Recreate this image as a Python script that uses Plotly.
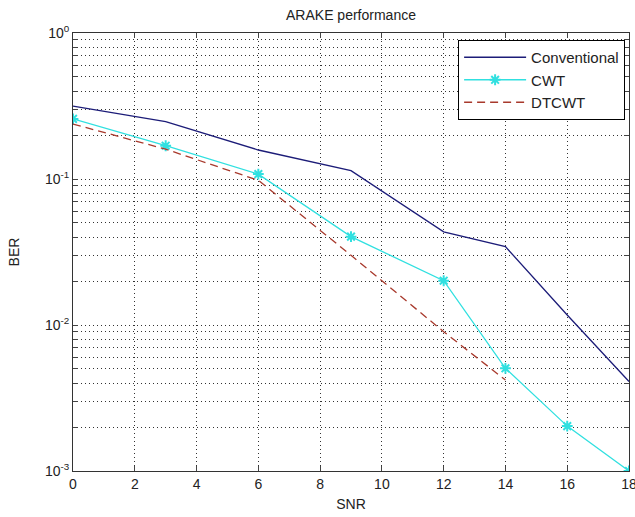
import plotly.graph_objects as go

snr_conv = [0, 3, 6, 9, 12, 14, 16, 18]
ber_conv = [0.316, 0.247, 0.158, 0.114, 0.0435, 0.0344, 0.0117, 0.0041]

snr_cwt = [0, 3, 6, 9, 12, 14, 16, 18]
ber_cwt = [0.258, 0.169, 0.108, 0.0403, 0.0201, 0.00505, 0.00203, 0.001]

snr_dt = [0, 3, 6, 9, 12, 14]
ber_dt = [0.238, 0.16, 0.098, 0.030, 0.009, 0.0042]

x_ticks = list(range(0, 19, 2))
decades = [-3, -2, -1, 0]

y_tickvals = []
y_ticktext = []
for d in decades:
    for m in range(1, 10):
        if d == 0 and m > 1:
            break
        y_tickvals.append(m * 10 ** d)
        y_ticktext.append(f"10<sup>{d}</sup>" if m == 1 else "")

fig = go.Figure()
fig.add_trace(go.Scatter(x=snr_conv, y=ber_conv, mode="lines", name="Conventional",
                         line=dict(color="#1c1c78", width=1.3)))
fig.add_trace(go.Scatter(x=snr_cwt, y=ber_cwt, mode="lines+markers", name="CWT",
                         line=dict(color="#30e0e0", width=1.3),
                         marker=dict(symbol="asterisk-open", size=9,
                                     line=dict(color="#30e0e0", width=2))))
fig.add_trace(go.Scatter(x=snr_dt, y=ber_dt, mode="lines", name="DTCWT",
                         line=dict(color="#a8392c", width=1.3, dash="8px,5px")))

FAM = "Liberation Sans, Arial, sans-serif"
axis_font = dict(family=FAM, size=14, color="#222")
grid_dash = "1px,3px"
fig.update_layout(
    width=635, height=517,
    margin=dict(l=73, r=6, t=33, b=46),
    paper_bgcolor="white", plot_bgcolor="white",
    font=axis_font,
    title=dict(text="ARAKE performance", x=(73 + 629) / 2 / 635, xanchor="center",
               y=1 - 15 / 517, yanchor="middle", font=dict(family=FAM, size=14, color="#222")),
    showlegend=True,
    legend=dict(x=0.993, y=0.984, xanchor="right", yanchor="top",
                bgcolor="white", bordercolor="black", borderwidth=1,
                font=dict(family=FAM, size=15, color="#222"), itemwidth=62),
    xaxis=dict(range=[0, 18], tickvals=x_ticks, ticks="inside", ticklen=5,
               showline=True, linecolor="#333", linewidth=1, mirror="ticks",
               showgrid=True, gridcolor="#333", gridwidth=1, griddash=grid_dash,
               zeroline=False, tickfont=axis_font, ticklabeloverflow="allow",
               automargin=False,
               title=dict(text="SNR", standoff=8, font=dict(family=FAM, size=14, color="#222"))),
    yaxis=dict(type="log", range=[-3, 0], tickvals=y_tickvals, ticktext=y_ticktext,
               ticks="inside", ticklen=5,
               showline=True, linecolor="#333", linewidth=1, mirror="ticks",
               showgrid=True, gridcolor="#333", gridwidth=1, griddash=grid_dash,
               zeroline=False, tickfont=axis_font, ticklabeloverflow="allow",
               automargin=False,
               title=dict(text="BER", standoff=22, font=dict(family=FAM, size=14, color="#222"))),
)

fig.write_html("out.html", config={"displayModeBar": False},
               post_script="document.body.style.margin='0';document.body.style.padding='0';")
